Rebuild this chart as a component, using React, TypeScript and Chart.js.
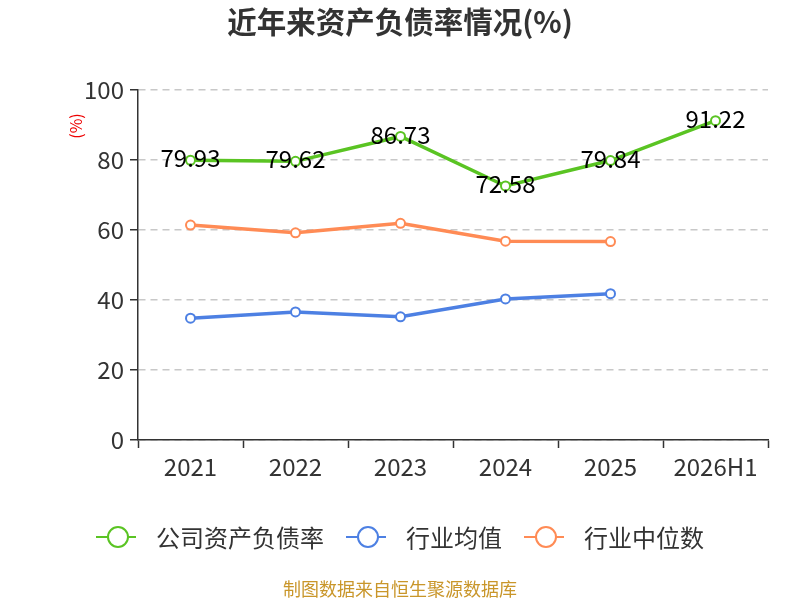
import { useEffect, useRef } from "react"
import { Chart, registerables } from "chart.js"
Chart.register(...registerables)

const years = ["2021", "2022", "2023", "2024", "2025", "2026H1"]
const companyRatio = [79.93, 79.62, 86.73, 72.58, 79.84, 91.22]
const industryAvg = [34.8, 36.6, 35.2, 40.3, 41.8, null]
const industryMedian = [61.4, 59.2, 61.9, 56.8, 56.7, null]
const yTicks = [0, 20, 40, 60, 80, 100]

const FONT = "'Noto Sans CJK SC', 'Noto Sans', sans-serif"

// title, y-axis unit, custom legend, footer and value labels
const decorPlugin = {
  id: "decor",
  afterDraw(chart: any) {
    const ctx = chart.ctx
    ctx.save()

    // title
    ctx.fillStyle = "#333"
    ctx.font = `bold 29.5px ${FONT}`
    ctx.textAlign = "center"
    ctx.textBaseline = "middle"
    ctx.fillText("近年来资产负债率情况(%)", 400, 22)

    // unit
    ctx.save()
    ctx.translate(76, 126)
    ctx.rotate(-Math.PI / 2)
    ctx.fillStyle = "#e00"
    ctx.font = `16px ${FONT}`
    ctx.fillText("(%)", 0, 0)
    ctx.restore()

    // value labels for company series
    const meta = chart.getDatasetMeta(0)
    ctx.fillStyle = "#000"
    ctx.font = `24px ${FONT}`
    meta.data.forEach((pt: any, i: number) => {
      ctx.fillText(companyRatio[i].toFixed(2), pt.x, pt.y - 2)
    })

    // legend
    ctx.font = `24px ${FONT}`
    const items = chart.data.datasets.map((ds: any) => ({
      label: ds.label,
      color: ds.borderColor,
      w: 40 + 20 + ctx.measureText(ds.label).width,
    }))
    const gap = 22
    const total = items.reduce((s: number, it: any) => s + it.w, 0) + gap * (items.length - 1)
    let x = 400 - total / 2
    const ly = 537
    ctx.textAlign = "left"
    items.forEach((it: any) => {
      ctx.strokeStyle = it.color
      ctx.lineWidth = 2
      ctx.beginPath()
      ctx.moveTo(x, ly)
      ctx.lineTo(x + 40, ly)
      ctx.stroke()
      ctx.beginPath()
      ctx.arc(x + 22, ly, 10, 0, Math.PI * 2)
      ctx.fillStyle = "#fff"
      ctx.fill()
      ctx.stroke()
      ctx.fillStyle = "#333"
      ctx.fillText(it.label, x + 60, ly + 1)
      x += it.w + gap
    })

    // footer
    ctx.textAlign = "center"
    ctx.fillStyle = "#c9962a"
    ctx.font = `18px ${FONT}`
    ctx.fillText("制图数据来自恒生聚源数据库", 400, 589)

    ctx.restore()
  },
}

export default function App() {
  const canvasRef = useRef<HTMLCanvasElement>(null)
  const chartInstance = useRef<Chart | null>(null)

  useEffect(() => {
    document.body.style.margin = "0"
    if (!canvasRef.current) return
    if (chartInstance.current) chartInstance.current.destroy()

    const ctx = canvasRef.current.getContext("2d")
    if (!ctx) return

    const lineStyle = (color: string) => ({
      borderColor: color,
      backgroundColor: color,
      borderWidth: 3.5,
      pointRadius: 4.5,
      pointBorderWidth: 2,
      pointBackgroundColor: "#fff",
      pointBorderColor: color,
      tension: 0,
      fill: false,
    })

    chartInstance.current = new Chart(ctx, {
      type: "line",
      data: {
        labels: years,
        datasets: [
          { label: "公司资产负债率", data: companyRatio, ...lineStyle("#5ac423") },
          { label: "行业均值", data: industryAvg, ...lineStyle("#4d80e3") },
          { label: "行业中位数", data: industryMedian, ...lineStyle("#ff8b55") },
        ],
      },
      options: {
        responsive: true,
        maintainAspectRatio: false,
        animation: false,
        layout: { padding: { top: 90, right: 32, bottom: 0, left: 0 } },
        scales: {
          x: {
            offset: true,
            grid: { display: true, drawOnChartArea: false, offset: true, tickLength: 8, tickColor: "#333", tickWidth: 1.5 },
            border: { color: "#333", width: 1.5 },
            ticks: { color: "#333", font: { size: 24, family: FONT }, padding: 4 },
            afterFit: (scale: any) => { scale.height = 160 },
          },
          y: {
            min: 0,
            max: 100,
            afterBuildTicks: (scale: any) => { scale.ticks = yTicks.map((v) => ({ value: v })) },
            grid: { color: "#c8c8c8", lineWidth: 1.5, tickLength: 8, tickColor: "#333", tickWidth: 1.5, tickBorderDash: [] },
            border: { color: "#333", width: 1.5, dash: [7, 5] },
            ticks: { color: "#333", font: { size: 24, family: FONT }, padding: 6 },
            afterFit: (scale: any) => { scale.width = 138 },
          },
        },
        plugins: {
          legend: { display: false },
          title: { display: false },
          tooltip: { enabled: false },
        },
      },
      plugins: [decorPlugin],
    })

    return () => {
      if (chartInstance.current) {
        chartInstance.current.destroy()
        chartInstance.current = null
      }
    }
  }, [])

  return (
    <div style={{ width: 800, height: 600, position: "relative", background: "#fff" }}>
      <canvas ref={canvasRef}></canvas>
    </div>
  )
}
